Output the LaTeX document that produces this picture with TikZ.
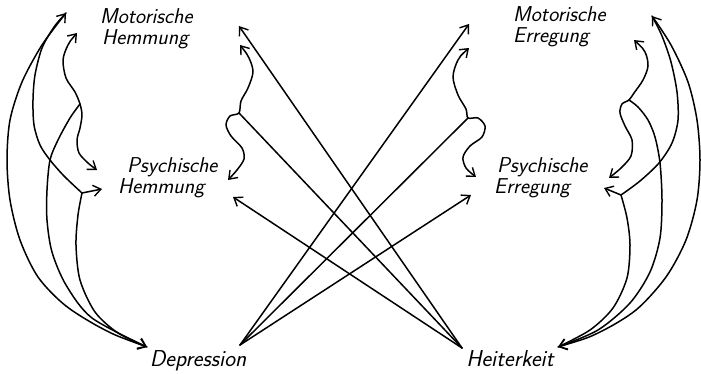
\documentclass[tikz,border=0pt]{standalone}
\usepackage{fontspec}
\usetikzlibrary{arrows.meta}
\tikzset{
  ln/.style={line width=1.5pt, line cap=round, line join=round},
  tip/.style={ln, -{Straight Barb[length=7.5pt,width=11pt,line width=1.4pt]}},
  tipboth/.style={ln, {Straight Barb[length=7.5pt,width=11pt,line width=1.4pt]}-{Straight Barb[length=7.5pt,width=11pt,line width=1.4pt]}},
  lab/.style={inner sep=0pt, align=left, font=\fontsize{21.5}{21}\selectfont\sffamily\itshape},
}
\begin{document}
\begin{tikzpicture}[x=1pt,y=-1pt]
\useasboundingbox (0,0) rectangle (701,374);
% labels
\node[lab, anchor=north west] (mh) at (100,8) {Motorische\\\hspace*{2pt}Hemmung};
\node[lab, anchor=north west] (ph) at (118,157) {\hspace*{9pt}Psychische\\Hemmung};
\node[lab, anchor=north west] (me) at (513,6) {Motorische\\Erregung};
\node[lab, anchor=north west] (pe) at (494,157) {\hspace*{3pt}Psychische\\Erregung};
\node[lab, anchor=base, font=\fontsize{23}{23}\selectfont\sffamily\itshape] (dep) at (198,366) {Depression};
\node[lab, anchor=base, font=\fontsize{23}{23}\selectfont\sffamily\itshape] (hei) at (510,366) {Heiterkeit};
% left coordinates
\coordinate (A) at (66,13);
\coordinate (DL) at (147,347);
\coordinate (J) at (82,193);
\coordinate (PHl) at (102,189);
\coordinate (W) at (80,104);
\coordinate (B) at (77,33);
\coordinate (Bb) at (97,170);
% right coordinates
\coordinate (Ar) at (652,16);
\coordinate (HR) at (558,347);
\coordinate (Jr) at (621,195);
\coordinate (PEr) at (604,188);
\coordinate (Wr) at (629,100);
\coordinate (Br) at (634,40);
\coordinate (Bbr) at (609,178);
% middle coordinates
\coordinate (C) at (239,26);
\coordinate (C2) at (240,45);
\coordinate (W2) at (239,113);
\coordinate (C2b) at (228,180);
\coordinate (PHm) at (233,197);
\coordinate (DB) at (240,345);
\coordinate (HB) at (462,348);
\coordinate (C4) at (469,24);
\coordinate (C3) at (469,48);
\coordinate (W3) at (468,118);
\coordinate (C3b) at (476,177);
\coordinate (PEm) at (471,195);
% left curves
\draw[tipboth] plot[smooth] coordinates {(DL) (105,330) (66,306) (38,277) (20,240) (10,200) (7,160) (10,120) (22,82) (42,45) (A)};
\draw[ln] plot[smooth] coordinates {(A) (54,27) (42,48) (35,75) (33,100) (34,125) (40,145) (50,160) (64,176) (J)};
\draw[tip] (J) -- (PHl);
\draw[ln] plot[smooth] coordinates {(J) (78,215) (76,245) (80,280) (95,312) (118,333) (DL)};
\draw[tip] plot[smooth] coordinates {(W) (70,118) (58,140) (50,160) (47,190) (47,220) (52,252) (66,285) (92,318) (DL)};
\draw[tipboth] plot[smooth] coordinates {(B) (68,45) (63,60) (66,78) (75,92) (W) (82,115) (80,128) (77,140) (79,153) (88,163) (Bb)};
% right curves
\draw[tipboth] plot[smooth] coordinates {(HR) (598,333) (636,310) (666,277) (686,240) (697,200) (700,160) (697,120) (688,82) (671,45) (Ar)};
\draw[ln] plot[smooth] coordinates {(Ar) (662,36) (671,62) (677,92) (678,120) (672,143) (659,163) (640,181) (Jr)};
\draw[tip] (Jr) -- (PEr);
\draw[ln] plot[smooth] coordinates {(Jr) (627,218) (630,245) (627,278) (613,308) (590,330) (HR)};
\draw[tip] plot[smooth] coordinates {(Wr) (638,107) (648,120) (655,137) (660,163) (662,200) (660,238) (650,272) (630,303) (598,330) (HR)};
\draw[tipboth] plot[smooth] coordinates {(Br) (645,52) (648,66) (643,80) (634,93) (Wr) (622,104) (620,113) (625,126) (632,140) (631,156) (621,168) (Bbr)};
% middle wavy arrows
\draw[tipboth] plot[smooth] coordinates {(C2) (249,58) (253,72) (248,88) (241,101) (W2) (230,116) (226,125) (231,136) (242,148) (244,159) (237,170) (C2b)};
\draw[tipboth] plot[smooth] coordinates {(C3) (458,60) (453,77) (458,95) (466,109) (W3) (478,118) (485,126) (482,137) (470,146) (463,157) (466,168) (C3b)};
% straight lines
\draw[tip] (HB) -- (C);
\draw[ln] (HB) -- (W2);
\draw[tip] (HB) -- (PHm);
\draw[tip] (DB) -- (C4);
\draw[ln] (DB) -- (W3);
\draw[tip] (DB) -- (PEm);
\end{tikzpicture}
\end{document}
